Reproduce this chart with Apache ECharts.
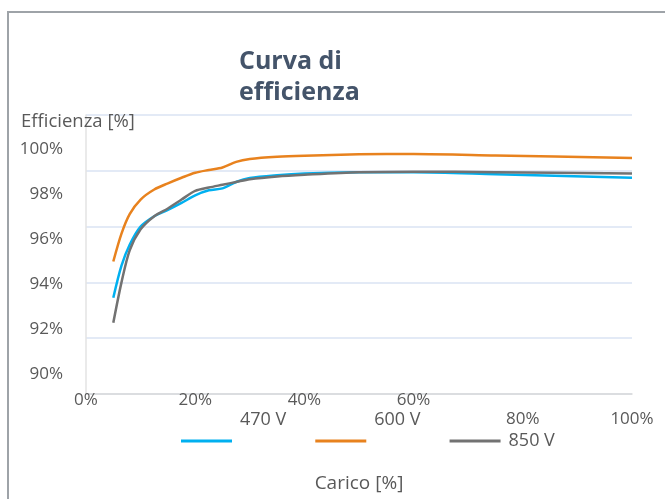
<!DOCTYPE html>
<html>
<head>
<meta charset="utf-8">
<script src="https://cdn.jsdelivr.net/npm/echarts@6/dist/echarts.min.js"></script>
<style>html,body{margin:0;padding:0;background:#fff;}#c{width:665px;height:499px;}</style>
</head>
<body>
<div id="c"></div>
<script>
// Load [%]
const loads   = [5, 6.5, 8, 10, 12.5, 15, 17.5, 20, 22.5, 25, 27.5, 30, 35, 40, 50, 60, 75, 100];
// Efficiency [%]
const eff470  = [93.45, 94.6, 95.35, 96.0, 96.37, 96.6, 96.85, 97.12, 97.3, 97.37, 97.6, 97.74, 97.84, 97.9, 97.95, 97.95, 97.88, 97.75];
const eff600  = [94.75, 95.75, 96.45, 96.97, 97.33, 97.55, 97.75, 97.93, 98.03, 98.12, 98.32, 98.42, 98.5, 98.54, 98.59, 98.6, 98.55, 98.46];
const eff850  = [92.55, 94.0, 95.15, 95.9, 96.37, 96.65, 96.97, 97.28, 97.4, 97.5, 97.6, 97.7, 97.8, 97.86, 97.95, 97.97, 97.95, 97.9];
const seriesNames = ['470 V', '600 V', '850 V'];
const seriesColors = ['#00b0f0', '#e8821e', '#727272'];
// Axis ticks
const xMin = 0, xMax = 100, xStep = 20;
const yMin = 90, yMax = 100, yStep = 2;
const titleText = 'Curva di\nefficienza';
const yName = 'Efficienza [%]';
const xName = 'Carico [%]';

const FONT = '"Open Sans", "Noto Sans", sans-serif';
const effs = [eff470, eff600, eff850];

const chart = echarts.init(document.getElementById('c'), null, {renderer: 'canvas'});
chart.setOption({
  backgroundColor: '#ffffff',
  animation: false,
  textStyle: {fontFamily: FONT},
  graphic: [{
    type: 'rect', silent: true, z: -10,
    shape: {x: 8, y: 12, width: 720, height: 600},
    style: {fill: 'none', stroke: '#9ea3a8', lineWidth: 2}
  }],
  title: [{
    text: titleText, left: 239, top: 46, padding: 0,
    textStyle: {fontFamily: FONT, fontWeight: 'bold', fontSize: 25, lineHeight: 31, color: '#44546a'}
  }, {
    text: yName, left: 21, top: 112, padding: 0,
    textStyle: {fontFamily: FONT, fontWeight: 'normal', fontSize: 18.5, color: '#595959'}
  }],
  legend: {
    data: seriesNames,
    left: 181, top: 399, padding: 0,
    orient: 'horizontal',
    icon: 'rect',
    itemWidth: 51, itemHeight: 3, itemGap: 29,
    formatter: function (name) { return name === '850 V' ? name : name + '\n '; },
    textStyle: {fontFamily: FONT, fontSize: 18, color: '#595959', lineHeight: 42, padding: [0, 0, 0, 3]}
  },
  grid: [
    {left: 86, right: 33, top: 115, bottom: 105, containLabel: false},
    {left: 66, width: 1, top: 149.5, bottom: 125, containLabel: false}
  ],
  xAxis: [{
    gridIndex: 0, type: 'value', min: xMin, max: xMax, interval: xStep,
    name: xName, nameLocation: 'middle', nameGap: 80,
    nameTextStyle: {fontFamily: FONT, fontSize: 19, color: '#595959'},
    axisLine: {show: true, lineStyle: {color: '#d9d9d9', width: 1.5}},
    axisTick: {show: false},
    splitLine: {show: false},
    axisLabel: {
      margin: -2, fontFamily: FONT, fontSize: 17, color: '#595959',
      formatter: function (v) { return v >= 80 ? '{low|' + v + '%}' : '{n|' + v + '%}'; },
      rich: {
        n: {fontFamily: FONT, fontSize: 17, color: '#595959', lineHeight: 17},
        low: {fontFamily: FONT, fontSize: 17, color: '#595959', lineHeight: 55}
      }
    }
  }, {
    gridIndex: 1, type: 'value', show: false, min: 0, max: 1
  }],
  yAxis: [{
    gridIndex: 0, type: 'value', min: yMin, max: yMax, interval: yStep,
    axisLine: {show: true, lineStyle: {color: '#e3e3e3', width: 1.5}},
    axisTick: {show: false},
    axisLabel: {show: false},
    splitLine: {show: true, lineStyle: {color: '#dae3f3', width: 1.5}}
  }, {
    gridIndex: 1, type: 'value', min: yMin, max: yMax, interval: yStep,
    axisLine: {show: false}, axisTick: {show: false}, splitLine: {show: false},
    axisLabel: {margin: 3, fontFamily: FONT, fontSize: 17, color: '#595959', formatter: '{value}%'}
  }],
  series: seriesNames.map(function (name, k) {
    return {
      name: name, type: 'line', xAxisIndex: 0, yAxisIndex: 0,
      data: loads.map(function (x, i) { return [x, effs[k][i]]; }),
      showSymbol: false, symbol: 'none',
      smooth: 0.3,
      itemStyle: {color: seriesColors[k]},
      lineStyle: {color: seriesColors[k], width: 2.5}
    };
  })
});
</script>
</body>
</html>
